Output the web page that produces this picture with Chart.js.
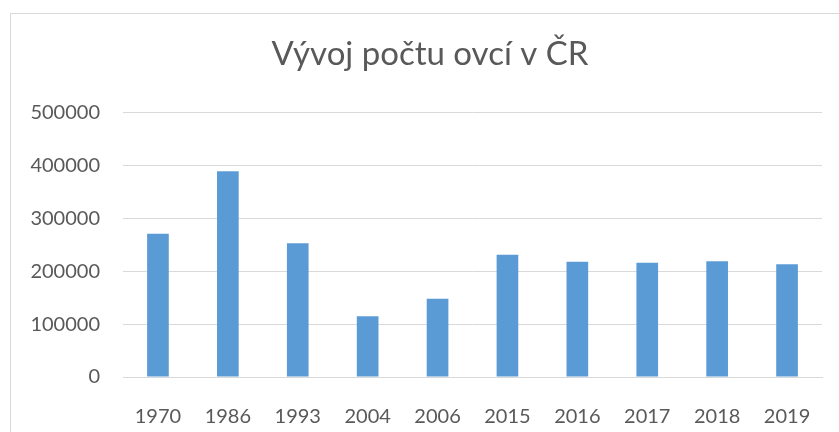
<!DOCTYPE html>
<html>
<head>
<meta charset="utf-8">
<script src="https://cdn.jsdelivr.net/npm/chart.js@4"></script>
<style>
  html, body { margin: 0; padding: 0; background: #fff; }
  body { width: 839px; height: 432px; position: relative; overflow: hidden; }
  #frame {
    position: absolute; left: 10px; top: 13px; width: 900px; height: 500px;
    border: 1.5px solid #d9d9d9; box-sizing: border-box;
  }
  #wrap { position: absolute; left: 0; top: 0; width: 839px; height: 432px; }
</style>
</head>
<body>
<div id="frame"></div>
<div id="wrap"><canvas id="chart"></canvas></div>
<script>
// roky a počty ovcí
const years = ["1970", "1986", "1993", "2004", "2006", "2015", "2016", "2017", "2018", "2019"];
const sheep = [271000, 389000, 253000, 115000, 148000, 231000, 218000, 216000, 219000, 213000];
const yTicks = [0, 100000, 200000, 300000, 400000, 500000];

const textColor = "#595959";
const gridColor = "#d9d9d9";

// posune nadpis trochu doprava (v originálu není přesně na středu plátna)
const shiftTitle = {
  id: "shiftTitle",
  afterLayout(chart) {
    if (chart.titleBlock) {
      chart.titleBlock.left += 19;
      chart.titleBlock.right += 19;
    }
  },
};

new Chart(document.getElementById("chart"), {
  type: "bar",
  data: {
    labels: years,
    datasets: [
      {
        label: "Počet ovcí",
        data: sheep,
        backgroundColor: "#5b9bd5",
        categoryPercentage: 1,
        barPercentage: 0.31,
      },
    ],
  },
  options: {
    responsive: true,
    maintainAspectRatio: false,
    animation: false,
    layout: { padding: { top: 0, right: 17, bottom: 0, left: 0 } },
    plugins: {
      legend: { display: false },
      tooltip: { enabled: false },
      title: {
        display: true,
        text: "Vývoj počtu ovcí v ČR",
        color: textColor,
        font: { family: "Lato", size: 33, weight: "normal" },
        padding: { top: 35, bottom: 38 },
      },
    },
    scales: {
      x: {
        grid: { display: false },
        border: { display: true, color: gridColor },
        ticks: {
          color: textColor,
          font: { family: "Lato", size: 20 },
          padding: 20,
          maxRotation: 0,
        },
        afterFit: (scale) => {
          scale.height = 55;
        },
      },
      y: {
        min: 0,
        max: 500000,
        afterBuildTicks: (scale) => {
          scale.ticks = yTicks.map((v) => ({ value: v }));
        },
        grid: { color: gridColor, drawTicks: false },
        border: { display: false },
        ticks: {
          color: textColor,
          font: { family: "Lato", size: 20 },
          padding: 23,
          callback: (value) => String(value), // bez oddělovače tisíců
        },
        afterFit: (scale) => {
          scale.width = 123;
        },
      },
    },
  },
  plugins: [shiftTitle],
});
</script>
</body>
</html>
